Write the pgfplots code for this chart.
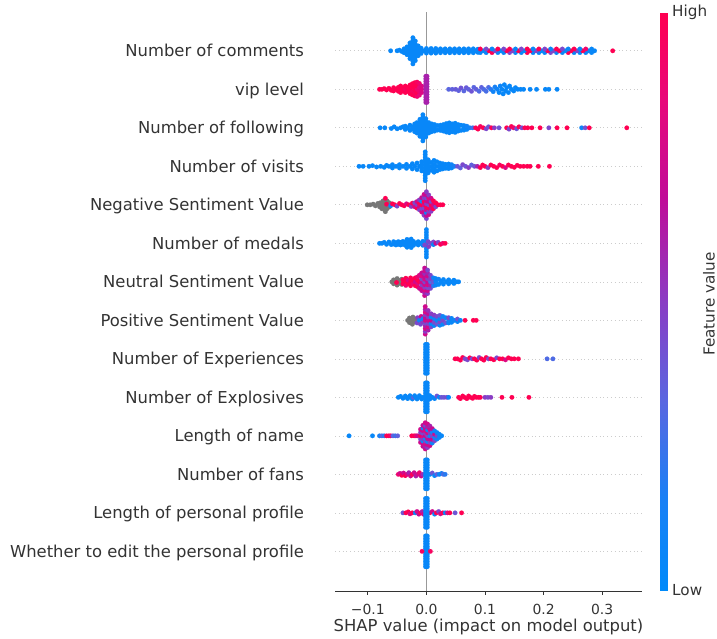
\documentclass[border=0pt]{standalone}
\usepackage{pgfplots}
\pgfplotsset{compat=1.18}
\usepackage{fontspec}
\setmainfont{DejaVu Sans}
\definecolor{cdark}{RGB}{51,51,51}
\definecolor{czero}{RGB}{153,153,153}
\definecolor{cgrid}{RGB}{204,204,204}
\definecolor{cnan}{RGB}{119,119,119}
\pgfplotsset{colormap={shap}{rgb255(0cm)=(0,138,250); rgb255(16cm)=(26,128,245); rgb255(33cm)=(90,102,224); rgb255(50cm)=(138,60,196); rgb255(68cm)=(192,12,152); rgb255(85cm)=(232,8,122); rgb255(100cm)=(255,0,82)}}
\pgfplotsset{
 pts/.style={scatter, only marks, mark=*, mark size=2.3pt, point meta=explicit, scatter/use mapped color={draw=mapped color, fill=mapped color, line width=0.1pt}},
 gpts/.style={only marks, mark=*, mark size=2.3pt, mark options={draw=cnan, fill=cnan, line width=0.1pt}}
}
\begin{document}
\begin{tikzpicture}
\path[use as bounding box] (0,0) rectangle (717pt,638pt);
\begin{axis}[
 at={(335pt,47pt)}, anchor=south west,
 scale only axis, width=307pt, height=578.7pt,
 xmin=-0.156, xmax=0.368, ymin=-1.03, ymax=14,
 axis x line*=bottom, axis y line*=left,
 y axis line style={draw=none},
 x axis line style={draw=cdark, line width=1pt},
 xtick={-0.1,0,0.1,0.2,0.3}, xticklabels={−0.1,0.0,0.1,0.2,0.3},
 ytick={0,1,2,3,4,5,6,7,8,9,10,11,12,13},
 yticklabels={Whether to edit the personal profile, Length of personal profile, Number of fans, Length of name, Number of Explosives, Number of Experiences, Positive Sentiment Value, Neutral Sentiment Value, Number of medals, Negative Sentiment Value, Number of visits, Number of following, vip level, Number of comments},
 ytick style={draw=none},
 xtick style={draw=cdark, line width=0.8pt},
 tick align=outside, major tick length=3.5pt,
 ymajorgrids, y grid style={color=cgrid, line width=0.63pt, dash pattern=on 0.63pt off 3.15pt},
 tick label style={color=cdark},
 xticklabel style={font=\fontsize{13.9pt}{16pt}\selectfont, anchor=base, yshift=-20pt},
 yticklabel style={font=\fontsize{16.4pt}{19pt}\selectfont, anchor=base east, yshift=-6pt, xshift=-24pt},
 xlabel={SHAP value (impact on model output)},
 xlabel style={font=\fontsize{16.4pt}{19pt}\selectfont, color=cdark, at={(axis description cs:0.5,0)}, anchor=base, yshift=-40.7pt},
 point meta min=0, point meta max=1, colormap name=shap,
]
\addplot[color=czero, line width=1.2pt, forget plot] coordinates {(0,-1.03) (0,14)};
% Row 13: Number of comments
\addplot[pts] table[row sep=\\, y expr=0.85*\thisrow{d}+13, meta=c] {x d c\\
-0.061 0 .05\\ -0.050 0 .05\\ -0.046 .02 .05\\ -0.042 -.02 .05\\ -0.038 -.06 .05\\ -0.038 .06 .05\\
-0.033 -.12 .05\\ -0.033 -.04 .05\\ -0.033 .04 .05\\ -0.033 .12 .05\\
-0.028 -.24 .05\\ -0.028 -.16 .05\\ -0.028 -.08 .05\\ -0.028 0 .05\\ -0.028 .08 .05\\ -0.028 .16 .05\\ -0.028 .24 .05\\
-0.023 -.40 .05\\ -0.023 -.32 .05\\ -0.023 -.24 .05\\ -0.023 -.16 .05\\ -0.023 -.08 .05\\ -0.023 0 .05\\ -0.023 .08 .05\\ -0.023 .16 .05\\ -0.023 .24 .05\\ -0.023 .32 .05\\ -0.023 .40 .05\\
-0.019 -.30 .05\\ -0.019 -.20 .05\\ -0.019 -.10 .05\\ -0.019 0 .05\\ -0.019 .10 .05\\ -0.019 .20 .05\\ -0.019 .30 .05\\
-0.014 -.15 .05\\ -0.014 -.05 .05\\ -0.014 .05 .05\\ -0.014 .15 .05\\ -0.009 -.08 .05\\ -0.009 0 .05\\ -0.009 .08 .05\\
-0.004 0 .05\\ 0 -.07 .05\\ 0 .07 .05\\ 0.004 0 .05\\ 0.008 -.07 .05\\ 0.008 .07 .05\\ 0.012 0 .05\\ 0.016 -.07 .05\\ 0.016 .07 .05\\ 0.020 0 .05\\ 0.024 -.06 .05\\ 0.024 .06 .05\\ 0.028 0 .05\\ 0.032 -.06 .05\\ 0.032 .06 .05\\ 0.036 0 .05\\ 0.040 -.06 .05\\ 0.040 .06 .05\\ 0.044 0 .05\\ 0.048 -.06 .05\\ 0.048 .06 .05\\ 0.052 0 .05\\ 0.056 -.06 .05\\ 0.056 .06 .05\\ 0.060 0 .05\\ 0.064 -.06 .05\\ 0.064 .06 .05\\ 0.068 0 .05\\ 0.072 -.06 .05\\ 0.072 .06 .05\\ 0.076 0 .05\\ 0.080 -.06 .05\\ 0.080 .06 .05\\ 0.084 0 .05\\ 0.088 -.05 .05\\ 0.088 .05 .05\\
0.092 -.055 .05\\ 0.102 -.055 .05\\ 0.112 -.055 1\\ 0.122 -.055 .05\\ 0.132 -.055 .05\\ 0.142 -.055 .45\\ 0.152 -.055 .05\\ 0.162 -.055 .05\\ 0.172 -.055 1\\ 0.182 -.055 .05\\ 0.192 -.055 .05\\ 0.202 -.055 .05\\ 0.212 -.055 .45\\ 0.222 -.055 .05\\ 0.232 -.055 .05\\ 0.242 -.055 1\\ 0.252 -.055 .05\\ 0.262 -.055 .05\\ 0.272 -.055 .05\\ 0.282 -.055 .05\\
0.097 0 .05\\ 0.107 0 1\\ 0.117 0 .45\\ 0.127 0 .05\\ 0.137 0 1\\ 0.147 0 .45\\ 0.157 0 1\\ 0.167 0 .05\\ 0.177 0 1\\ 0.187 0 .45\\ 0.197 0 .05\\ 0.207 0 1\\ 0.217 0 .45\\ 0.227 0 1\\ 0.237 0 .05\\ 0.247 0 1\\ 0.257 0 .45\\ 0.267 0 1\\ 0.277 0 .05\\ 0.287 0 .05\\
0.092 .055 1\\ 0.102 .055 .45\\ 0.112 .055 .05\\ 0.122 .055 1\\ 0.132 .055 .45\\ 0.142 .055 1\\ 0.152 .055 .05\\ 0.162 .055 .45\\ 0.172 .055 1\\ 0.182 .055 .05\\ 0.192 .055 1\\ 0.202 .055 .45\\ 0.212 .055 .05\\ 0.222 .055 1\\ 0.232 .055 .45\\ 0.242 .055 .05\\ 0.252 .055 1\\ 0.262 .055 .05\\ 0.272 .055 .9\\ 0.282 .055 .05\\
0.318 0 1\\
};
% Row 12: vip level
\addplot[pts] table[row sep=\\, y expr=0.85*\thisrow{d}+12, meta=c] {x d c\\
-0.080 0 1\\ -0.076 0 1\\ -0.072 .02 1\\ -0.068 -.02 1\\ -0.064 .03 1\\ -0.060 -.03 1\\
-0.056 -.05 1\\ -0.056 .05 1\\ -0.052 0 1\\ -0.048 -.06 1\\ -0.048 .06 1\\ -0.044 0 1\\ -0.044 -.10 1\\ -0.044 .10 1\\ -0.040 -.05 1\\ -0.040 .05 1\\
-0.036 -.10 1\\ -0.036 0 .95\\ -0.036 .10 1\\ -0.032 -.06 1\\ -0.032 .06 1\\ -0.028 -.13 1\\ -0.028 0 1\\ -0.028 .13 1\\ -0.024 -.07 .95\\ -0.024 .07 1\\ -0.024 -.17 1\\ -0.024 .17 1\\
-0.020 -.20 1\\ -0.020 -.10 .95\\ -0.020 0 1\\ -0.020 .10 1\\ -0.020 .20 1\\
-0.016 -.22 .9\\ -0.016 -.11 1\\ -0.016 0 .9\\ -0.016 .11 1\\ -0.016 .22 .95\\
-0.012 -.18 .85\\ -0.012 -.06 .9\\ -0.012 .06 .85\\ -0.012 .18 .9\\ -0.008 -.10 .8\\ -0.008 0 .8\\ -0.008 .10 .8\\
-0.001 -.40 .6\\ -0.001 -.32 .6\\ -0.001 -.24 .6\\ -0.001 -.16 .6\\ -0.001 -.08 .6\\ -0.001 0 .6\\ -0.001 .08 .6\\ -0.001 .16 .6\\ -0.001 .24 .6\\ -0.001 .32 .6\\ -0.001 .40 .6\\
0.001 -.40 .6\\ 0.001 -.32 .6\\ 0.001 -.24 .6\\ 0.001 -.16 .6\\ 0.001 -.08 .6\\ 0.001 0 .6\\ 0.001 .08 .6\\ 0.001 .16 .6\\ 0.001 .24 .6\\ 0.001 .32 .6\\ 0.001 .40 .6\\
0.038 0 .33\\ 0.044 0 .35\\ 0.050 0 .38\\ 0.055 -.04 .35\\ 0.059 .04 .4\\ 0.064 -.05 .33\\ 0.068 .05 .38\\ 0.072 0 .35\\ 0.077 -.06 .4\\ 0.081 .06 .33\\ 0.085 0 .36\\ 0.090 -.06 .3\\ 0.094 .06 .35\\ 0.098 0 .3\\ 0.102 -.06 .28\\ 0.106 .06 .3\\
0.110 0 .2\\ 0.114 -.07 .1\\ 0.117 .07 .15\\ 0.121 0 .1\\ 0.124 -.10 .05\\ 0.126 .10 .08\\ 0.129 0 .05\\ 0.131 -.14 .05\\ 0.133 .14 .05\\ 0.135 -.05 .05\\ 0.137 .05 .05\\ 0.140 -.10 .05\\ 0.142 .10 .05\\ 0.145 0 .05\\ 0.149 -.05 .05\\ 0.152 .05 .05\\ 0.156 0 .05\\ 0.161 0 .05\\ 0.166 0 .05\\ 0.177 0 .05\\ 0.188 0 .05\\ 0.203 0 .05\\ 0.209 0 .05\\ 0.223 0 .05\\
};
% Row 11: Number of following
\addplot[pts] table[row sep=\\, y expr=0.85*\thisrow{d}+11, meta=c] {x d c\\
-0.079 0 .05\\ -0.071 0 .05\\ -0.060 -.02 .05\\ -0.055 .03 .05\\ -0.050 -.03 .05\\ -0.044 0 .05\\ -0.040 .03 .05\\
-0.036 -.05 .05\\ -0.036 .05 .05\\ -0.032 0 .05\\ -0.028 -.08 .05\\ -0.028 .08 .05\\ -0.024 -.03 .05\\ -0.024 .03 .05\\ -0.020 -.12 .05\\ -0.020 -.04 .05\\ -0.020 .04 .05\\ -0.020 .12 .05\\
-0.016 -.16 .05\\ -0.016 -.08 .05\\ -0.016 0 .05\\ -0.016 .08 .05\\ -0.016 .16 .05\\
-0.011 -.26 .05\\ -0.011 -.17 .05\\ -0.011 -.09 .05\\ -0.011 0 .05\\ -0.011 .09 .05\\ -0.011 .17 .05\\ -0.011 .26 .05\\
-0.006 -.40 .05\\ -0.006 -.32 .05\\ -0.006 -.24 .05\\ -0.006 -.16 .05\\ -0.006 -.08 .05\\ -0.006 0 .05\\ -0.006 .08 .05\\ -0.006 .16 .05\\ -0.006 .24 .05\\ -0.006 .32 .05\\ -0.006 .40 .05\\
-0.001 -.28 .05\\ -0.001 -.20 .05\\ -0.001 -.12 .05\\ -0.001 -.04 .05\\ -0.001 .04 .05\\ -0.001 .12 .05\\ -0.001 .20 .05\\ -0.001 .28 .05\\
0.004 -.16 .05\\ 0.004 -.08 .05\\ 0.004 0 .05\\ 0.004 .08 .05\\ 0.004 .16 .05\\ 0.009 -.12 .05\\ 0.009 -.04 .05\\ 0.009 .04 .05\\ 0.009 .12 .05\\
0.014 -.10 .05\\ 0.014 0 .05\\ 0.014 .10 .05\\ 0.019 -.07 .05\\ 0.019 .07 .05\\ 0.024 -.08 .05\\ 0.024 0 .05\\ 0.024 .08 .05\\
0.029 -.10 .05\\ 0.029 0 .05\\ 0.029 .10 .05\\ 0.034 -.13 .05\\ 0.034 -.04 .05\\ 0.034 .04 .05\\ 0.034 .13 .05\\
0.039 -.15 .05\\ 0.039 -.05 .05\\ 0.039 .05 .05\\ 0.039 .15 .05\\ 0.044 -.12 .05\\ 0.044 0 .05\\ 0.044 .12 .05\\
0.049 -.14 .05\\ 0.049 -.05 .05\\ 0.049 .05 .05\\ 0.049 .14 .05\\ 0.054 -.10 .05\\ 0.054 0 .05\\ 0.054 .10 .05\\
0.059 -.08 .05\\ 0.059 .08 .05\\ 0.064 -.07 .05\\ 0.064 0 .05\\ 0.064 .07 .05\\ 0.069 -.05 .05\\ 0.069 .05 .1\\ 0.074 0 .1\\ 0.079 0 .25\\
0.084 0 1\\ 0.088 -.04 1\\ 0.092 .04 .95\\ 0.097 0 1\\ 0.102 -.03 .45\\ 0.106 .03 .4\\ 0.111 0 1\\ 0.116 0 .5\\ 0.124 0 .4\\ 0.137 0 1\\ 0.141 -.04 .45\\ 0.145 .04 1\\ 0.149 0 .9\\ 0.154 -.03 .4\\ 0.158 .03 1\\ 0.163 0 .45\\ 0.168 0 1\\ 0.173 0 1\\ 0.180 0 1\\ 0.194 0 1\\ 0.209 0 .45\\ 0.223 0 1\\ 0.240 0 1\\ 0.265 0 .1\\ 0.271 0 .4\\ 0.278 0 1\\ 0.342 0 1\\
};
% Row 10: Number of visits
\addplot[pts] table[row sep=\\, y expr=0.85*\thisrow{d}+10, meta=c] {x d c\\
-0.115 0 .05\\ -0.108 0 .05\\ -0.098 0 .05\\ -0.092 .02 .05\\ -0.085 -.02 .05\\ -0.078 0 .05\\ -0.072 -.03 .05\\ -0.068 .03 .05\\ -0.064 0 .05\\ -0.058 -.05 .05\\ -0.058 .05 .05\\ -0.052 0 .05\\ -0.046 -.05 .05\\ -0.046 .05 .05\\ -0.040 0 .05\\ -0.034 -.06 .05\\ -0.034 .06 .05\\ -0.028 0 .05\\ -0.024 -.08 .05\\ -0.024 .08 .05\\ -0.020 0 .05\\ -0.016 -.10 .05\\ -0.016 .10 .05\\ -0.012 0 .05\\ -0.008 -.14 .05\\ -0.008 -.05 .05\\ -0.008 .05 .05\\ -0.008 .14 .05\\
-0.002 -.44 .05\\ -0.002 -.36 .05\\ -0.002 -.28 .05\\ -0.002 -.20 .05\\ -0.002 -.12 .05\\ -0.002 -.04 .05\\ -0.002 .04 .05\\ -0.002 .12 .05\\ -0.002 .20 .05\\ -0.002 .28 .05\\ -0.002 .36 .05\\ -0.002 .44 .05\\
0.003 -.20 .05\\ 0.003 -.10 .05\\ 0.003 0 .05\\ 0.003 .10 .05\\ 0.003 .20 .05\\ 0.008 -.12 .05\\ 0.008 0 .05\\ 0.008 .12 .05\\
0.013 -.18 .05\\ 0.013 -.06 .05\\ 0.013 .06 .05\\ 0.013 .18 .05\\ 0.018 -.14 .05\\ 0.018 0 .05\\ 0.018 .14 .05\\ 0.023 -.10 .05\\ 0.023 0 .05\\ 0.023 .10 .05\\
0.028 -.08 .05\\ 0.028 0 .05\\ 0.028 .08 .05\\ 0.033 -.06 .05\\ 0.033 .06 .05\\ 0.038 -.07 .05\\ 0.038 0 .05\\ 0.038 .07 .05\\ 0.043 -.05 .05\\ 0.043 .05 .1\\ 0.048 0 .15\\
0.053 0 .4\\ 0.058 -.05 .35\\ 0.062 .05 .45\\ 0.067 0 .4\\ 0.072 -.04 .5\\ 0.077 .04 .35\\ 0.082 0 .4\\ 0.087 0 .6\\
0.092 -.04 1\\ 0.096 .04 1\\ 0.100 0 1\\ 0.105 -.04 .5\\ 0.110 .04 1\\ 0.115 0 1\\ 0.120 -.04 1\\ 0.125 .04 .95\\ 0.130 0 1\\ 0.135 -.04 .8\\ 0.140 .04 1\\ 0.145 0 1\\ 0.150 -.03 1\\ 0.155 .03 1\\ 0.160 0 1\\ 0.166 0 1\\ 0.172 0 1\\ 0.177 0 1\\ 0.191 0 1\\ 0.210 0 1\\
};
% Row 9: Negative Sentiment Value
\addplot[gpts] table[row sep=\\, y expr=0.85*\thisrow{d}+9] {x d\\
-0.101 0\\ -0.096 0\\ -0.091 .02\\ -0.087 -.03\\ -0.083 .04\\ -0.080 -.06\\ -0.079 .06\\ -0.076 -.12\\ -0.075 0\\ -0.074 .12\\ -0.071 -.17\\ -0.071 -.06\\ -0.070 .06\\ -0.070 -.21\\ -0.067 -.12\\ -0.067 .12\\ -0.065 0\\ -0.063 -.06\\ -0.063 .06\\
};
\addplot[pts] table[row sep=\\, y expr=0.85*\thisrow{d}+9, meta=c] {x d c\\
-0.070 .20 1\\ -0.068 .02 1\\ -0.061 -.03 .1\\ -0.058 .03 1\\ -0.054 0 1\\ -0.050 -.04 .45\\ -0.046 .04 1\\ -0.042 0 1\\ -0.038 -.03 1\\ -0.034 .03 .8\\ -0.030 0 1\\ -0.026 -.05 .5\\ -0.024 .05 1\\
-0.020 -.06 .75\\ -0.020 .06 .45\\ -0.016 -.10 1\\ -0.016 0 .5\\ -0.016 .10 .75\\
-0.012 -.15 .45\\ -0.012 -.05 .75\\ -0.012 .05 1\\ -0.012 .15 .5\\
-0.008 -.22 .75\\ -0.008 -.11 .45\\ -0.008 0 1\\ -0.008 .11 .1\\ -0.008 .22 .7\\
-0.004 -.32 .5\\ -0.004 -.21 .75\\ -0.004 -.10 .45\\ -0.004 0 .8\\ -0.004 .10 1\\ -0.004 .21 .5\\ -0.004 .32 .75\\
0 -.42 .45\\ 0 -.33 .7\\ 0 -.24 .1\\ 0 -.15 .75\\ 0 -.06 1\\ 0 .03 .5\\ 0 .12 .75\\ 0 .21 .45\\ 0 .30 .7\\ 0 .40 .5\\
0.004 -.30 .75\\ 0.004 -.20 .5\\ 0.004 -.10 1\\ 0.004 0 .45\\ 0.004 .10 .7\\ 0.004 .20 .8\\ 0.004 .30 .5\\
0.008 -.20 .5\\ 0.008 -.10 .75\\ 0.008 0 1\\ 0.008 .10 .45\\ 0.008 .20 .75\\
0.012 -.12 1\\ 0.012 0 .75\\ 0.012 .12 1\\ 0.016 -.06 .45\\ 0.016 .06 1\\ 0.020 0 1\\ 0.024 0 1\\ 0.028 0 1\\
};
% Row 8: Number of medals
\addplot[pts] table[row sep=\\, y expr=0.85*\thisrow{d}+8, meta=c] {x d c\\
-0.080 0 .05\\ -0.076 0 .05\\ -0.072 .03 .05\\ -0.068 -.03 .05\\ -0.064 .04 .05\\ -0.060 -.04 .05\\ -0.056 .05 .05\\ -0.056 -.02 .05\\ -0.052 -.05 .05\\ -0.052 .02 .05\\ -0.048 .05 .05\\ -0.048 -.03 .05\\ -0.044 -.05 .05\\ -0.044 .03 .05\\ -0.040 .06 .05\\ -0.040 -.03 .05\\ -0.036 -.06 .05\\ -0.036 .03 .05\\
-0.033 -.12 .05\\ -0.033 0 .05\\ -0.033 .12 .05\\ -0.029 -.06 .05\\ -0.029 .06 .05\\ -0.026 -.13 .05\\ -0.026 0 .05\\ -0.026 .13 .05\\ -0.022 -.06 .05\\ -0.022 .06 .05\\ -0.018 0 .05\\ -0.014 -.05 .05\\ -0.014 .05 .05\\ -0.010 0 .05\\ -0.006 -.06 .05\\ -0.006 .06 .05\\
0 -.42 .05\\ 0 -.336 .05\\ 0 -.252 .05\\ 0 -.168 .05\\ 0 -.084 .05\\ 0 0 .05\\ 0 .084 .05\\ 0 .168 .05\\ 0 .252 .05\\ 0 .336 .05\\ 0 .42 .05\\
-0.003 -.05 .45\\ 0.003 .05 .45\\ 0.004 -.10 .5\\
0.008 0 .45\\ 0.012 .04 .45\\ 0.012 -.04 .05\\ 0.016 0 .7\\ 0.020 .03 .45\\ 0.024 -.03 1\\ 0.028 0 .9\\ 0.032 0 1\\
};
% Row 7: Neutral Sentiment Value
\addplot[gpts] table[row sep=\\, y expr=0.85*\thisrow{d}+7] {x d\\
-0.059 0\\ -0.056 -.06\\ -0.056 .06\\ -0.053 0\\ -0.050 -.10\\ -0.050 .10\\ -0.047 -.05\\ -0.047 .05\\ -0.044 0\\ -0.042 -.08\\ -0.042 .08\\
};
\addplot[pts] table[row sep=\\, y expr=0.85*\thisrow{d}+7, meta=c] {x d c\\
-0.051 -.02 1\\ -0.040 -.06 1\\ -0.040 .06 1\\ -0.036 0 1\\ -0.035 -.11 .9\\ -0.035 .11 1\\ -0.031 -.05 1\\ -0.031 .05 .8\\ -0.027 -.12 1\\ -0.027 0 1\\ -0.027 .12 1\\ -0.023 -.06 .9\\ -0.023 .06 1\\ -0.019 -.12 1\\ -0.019 0 .75\\ -0.019 .12 1\\ -0.015 -.15 1\\ -0.015 -.05 .8\\ -0.015 .05 1\\ -0.015 .15 .9\\ -0.012 -.2 .75\\ -0.012 0 1\\ -0.012 .2 .8\\
-0.008 -.27 .7\\ -0.008 -.18 .8\\ -0.008 -.09 .5\\ -0.008 0 .75\\ -0.008 .09 .45\\ -0.008 .18 .8\\ -0.008 .27 .7\\
-0.003 -.42 .75\\ -0.003 -.336 .6\\ -0.003 -.252 .8\\ -0.003 -.168 .5\\ -0.003 -.084 .75\\ -0.003 0 .45\\ -0.003 .084 .8\\ -0.003 .168 .7\\ -0.003 .252 .55\\ -0.003 .336 .75\\ -0.003 .42 .7\\
0.002 -.36 .5\\ 0.002 -.27 .75\\ 0.002 -.18 .45\\ 0.002 -.09 .8\\ 0.002 0 .7\\ 0.002 .09 .5\\ 0.002 .18 .75\\ 0.002 .27 .6\\ 0.002 .36 .45\\
0.007 -.20 .45\\ 0.007 -.10 .6\\ 0.007 0 .3\\ 0.007 .10 .5\\ 0.007 .20 .45\\ 0.012 -.12 .2\\ 0.012 0 .4\\ 0.012 .12 .1\\
0.016 -.10 .05\\ 0.016 0 .1\\ 0.016 .10 .05\\ 0.021 -.08 .05\\ 0.021 .08 .1\\ 0.025 0 .05\\ 0.029 -.07 .05\\ 0.029 .07 .05\\ 0.034 0 .05\\ 0.038 -.06 .05\\ 0.038 .06 .05\\ 0.043 0 .05\\ 0.047 -.05 .05\\ 0.047 .05 .05\\ 0.052 0 .05\\ 0.055 0 .05\\
};
% Row 6: Positive Sentiment Value
\addplot[gpts] table[row sep=\\, y expr=0.85*\thisrow{d}+6] {x d\\
-0.032 0\\ -0.029 -.07\\ -0.029 .07\\ -0.026 0\\ -0.024 -.12\\ -0.023 .10\\ -0.021 -.05\\ -0.020 .05\\ -0.018 0\\
};
\addplot[pts] table[row sep=\\, y expr=0.85*\thisrow{d}+6, meta=c] {x d c\\
-0.016 -.08 .45\\ -0.015 .08 .5\\ -0.012 0 .1\\ -0.010 -.12 .45\\ -0.009 .12 .75\\ -0.006 -.05 .5\\ -0.006 .05 .1\\
-0.002 -.42 .75\\ -0.002 -.336 .5\\ -0.002 -.252 .8\\ -0.002 -.168 .6\\ -0.002 -.084 .45\\ -0.002 0 .75\\ -0.002 .084 .7\\ -0.002 .168 .5\\ -0.002 .252 .8\\ -0.002 .336 .6\\ -0.002 .42 .75\\
0.003 -.30 .6\\ 0.003 -.20 .8\\ 0.003 -.10 .45\\ 0.003 0 .75\\ 0.003 .10 .5\\ 0.003 .20 .7\\ 0.003 .30 .55\\
0.008 -.20 .45\\ 0.008 -.10 .05\\ 0.008 0 .7\\ 0.008 .10 .1\\ 0.008 .20 .5\\
0.013 -.16 .05\\ 0.013 -.06 .45\\ 0.013 .06 .1\\ 0.013 .16 .5\\ 0.018 -.12 .4\\ 0.018 0 .05\\ 0.018 .12 .45\\
0.023 -.15 .1\\ 0.023 -.05 .45\\ 0.023 .05 .05\\ 0.023 .15 .4\\ 0.028 -.12 .05\\ 0.028 0 .45\\ 0.028 .12 .1\\
0.033 -.08 .4\\ 0.033 .08 .05\\ 0.038 -.08 .05\\ 0.038 0 .1\\ 0.038 .08 .45\\ 0.043 -.06 .05\\ 0.043 .06 .05\\ 0.048 0 .1\\ 0.053 -.04 .05\\ 0.053 .04 .4\\ 0.058 0 .05\\
0.066 0 1\\ 0.080 0 1\\ 0.085 0 1\\
};
% Row 5: Number of Experiences
\addplot[pts] table[row sep=\\, y expr=0.85*\thisrow{d}+5, meta=c] {x d c\\
-0.0015 -.44 .05\\ -0.0015 -.36 .05\\ -0.0015 -.28 .05\\ -0.0015 -.20 .05\\ -0.0015 -.12 .05\\ -0.0015 -.04 .05\\ -0.0015 .04 .05\\ -0.0015 .12 .05\\ -0.0015 .20 .05\\ -0.0015 .28 .05\\ -0.0015 .36 .05\\ -0.0015 .44 .05\\
0.0015 -.44 .05\\ 0.0015 -.36 .05\\ 0.0015 -.28 .05\\ 0.0015 -.20 .05\\ 0.0015 -.12 .05\\ 0.0015 -.04 .05\\ 0.0015 .04 .05\\ 0.0015 .12 .05\\ 0.0015 .20 .05\\ 0.0015 .28 .05\\ 0.0015 .36 .05\\ 0.0015 .44 .05\\
0.049 0 1\\ 0.053 0 1\\ 0.058 -.04 1\\ 0.062 .04 1\\ 0.066 0 .45\\ 0.070 -.03 .45\\ 0.074 .03 1\\ 0.078 0 .45\\ 0.082 0 1\\ 0.086 -.04 1\\ 0.090 .04 .45\\ 0.094 0 1\\ 0.098 -.04 1\\ 0.102 .04 1\\ 0.106 0 .45\\ 0.110 0 1\\ 0.115 -.03 1\\ 0.120 .03 .45\\ 0.125 0 1\\ 0.130 0 1\\ 0.135 -.03 .8\\ 0.140 .03 1\\ 0.145 0 1\\ 0.150 0 1\\ 0.157 0 1\\
0.206 0 .3\\ 0.216 0 .3\\
};
% Row 4: Number of Explosives
\addplot[pts] table[row sep=\\, y expr=0.85*\thisrow{d}+4, meta=c] {x d c\\
-0.048 0 .05\\ -0.044 .03 .05\\ -0.040 -.03 .05\\ -0.036 .04 .05\\ -0.034 0 .05\\ -0.032 -.04 .05\\ -0.028 .05 .05\\ -0.026 0 .05\\ -0.024 -.05 .05\\ -0.022 0 .35\\ -0.020 .05 .05\\ -0.018 0 .05\\ -0.016 -.05 .05\\ -0.012 .05 .05\\ -0.010 0 .05\\ -0.008 -.05 .05\\ -0.006 0 .05\\
0.006 -.05 .05\\ 0.006 .05 .05\\ 0.010 0 .05\\ 0.014 -.04 .05\\ 0.018 .04 .4\\ 0.022 0 .05\\ 0.026 0 .4\\ 0.030 0 .4\\ 0.035 0 .45\\ 0.038 0 .05\\
-0.0015 -.44 .05\\ -0.0015 -.36 .05\\ -0.0015 -.28 .05\\ -0.0015 -.20 .05\\ -0.0015 -.12 .05\\ -0.0015 -.04 .05\\ -0.0015 .04 .05\\ -0.0015 .12 .05\\ -0.0015 .20 .05\\ -0.0015 .28 .05\\ -0.0015 .36 .05\\ -0.0015 .44 .05\\
0.0015 -.44 .05\\ 0.0015 -.36 .05\\ 0.0015 -.28 .05\\ 0.0015 -.20 .05\\ 0.0015 -.12 .05\\ 0.0015 -.04 .05\\ 0.0015 .04 .05\\ 0.0015 .12 .05\\ 0.0015 .20 .05\\ 0.0015 .28 .05\\ 0.0015 .36 .05\\ 0.0015 .44 .05\\
0.055 0 1\\ 0.058 -.04 1\\ 0.062 .04 1\\ 0.065 0 1\\ 0.069 -.04 1\\ 0.072 .04 1\\ 0.075 0 1\\ 0.079 -.03 1\\ 0.082 .03 1\\ 0.085 0 1\\ 0.089 0 1\\ 0.092 0 1\\ 0.100 0 .5\\ 0.105 0 .45\\ 0.110 0 .5\\ 0.129 0 1\\ 0.146 0 1\\ 0.175 0 1\\
};
% Row 3: Length of name
\addplot[pts] table[row sep=\\, y expr=0.85*\thisrow{d}+3, meta=c] {x d c\\
-0.132 0 .05\\ -0.092 0 .05\\ -0.080 0 .15\\ -0.076 0 .3\\ -0.072 0 .2\\ -0.068 0 1\\ -0.064 0 1\\ -0.061 0 .9\\ -0.057 0 .35\\ -0.053 0 .25\\ -0.049 0 .35\\
-0.025 0 1\\ -0.021 0 1\\ -0.018 0 .9\\ -0.015 0 .75\\
-0.010 -.2 .75\\ -0.010 -.1 .45\\ -0.010 0 1\\ -0.010 .1 .5\\ -0.010 .2 .75\\
-0.006 -.32 .7\\ -0.006 -.24 .75\\ -0.006 -.16 .1\\ -0.006 -.08 .5\\ -0.006 0 .8\\ -0.006 .08 .45\\ -0.006 .16 .75\\ -0.006 .24 .1\\ -0.006 .32 .7\\
-0.002 -.40 .75\\ -0.002 -.32 .6\\ -0.002 -.24 .8\\ -0.002 -.16 .45\\ -0.002 -.08 .1\\ -0.002 0 .75\\ -0.002 .08 .5\\ -0.002 .16 .8\\ -0.002 .24 .7\\ -0.002 .32 .45\\ -0.002 .40 .75\\
0.002 -.36 .5\\ 0.002 -.27 .75\\ 0.002 -.18 .1\\ 0.002 -.09 .7\\ 0.002 0 .45\\ 0.002 .09 .8\\ 0.002 .18 .1\\ 0.002 .27 .6\\ 0.002 .36 .75\\
0.006 -.30 .75\\ 0.006 -.20 .45\\ 0.006 -.10 .7\\ 0.006 0 .1\\ 0.006 .10 .5\\ 0.006 .20 .75\\ 0.006 .30 .6\\
0.010 -.22 .1\\ 0.010 -.11 .75\\ 0.010 0 .45\\ 0.010 .11 .1\\ 0.010 .22 .7\\
0.014 -.15 .45\\ 0.014 -.05 .1\\ 0.014 .05 .75\\ 0.014 .15 .1\\ 0.018 -.10 .1\\ 0.018 0 .45\\ 0.018 .10 .05\\ 0.022 -.05 .1\\ 0.022 .05 .05\\ 0.026 0 .05\\
};
% Row 2: Number of fans
\addplot[pts] table[row sep=\\, y expr=0.85*\thisrow{d}+2, meta=c] {x d c\\
-0.048 0 .9\\ -0.045 .03 .75\\ -0.042 -.03 1\\ -0.039 .04 .75\\ -0.036 -.04 1\\ -0.033 0 .8\\ -0.030 .05 .6\\ -0.027 -.05 .75\\ -0.024 0 1\\ -0.021 .05 .75\\ -0.018 -.05 .6\\ -0.015 0 .75\\ -0.012 .05 .9\\ -0.009 -.05 .75\\ -0.006 0 .55\\
0.006 0 .05\\ 0.010 .04 .4\\ 0.014 -.04 .05\\ 0.018 0 .35\\ 0.022 0 .05\\ 0.026 .03 .15\\ 0.029 0 .3\\ 0.032 0 .2\\
-0.0015 -.44 .05\\ -0.0015 -.36 .05\\ -0.0015 -.28 .05\\ -0.0015 -.20 .05\\ -0.0015 -.12 .05\\ -0.0015 -.04 .05\\ -0.0015 .04 .05\\ -0.0015 .12 .05\\ -0.0015 .20 .05\\ -0.0015 .28 .05\\ -0.0015 .36 .05\\ -0.0015 .44 .05\\
0.0015 -.44 .05\\ 0.0015 -.36 .05\\ 0.0015 -.28 .05\\ 0.0015 -.20 .05\\ 0.0015 -.12 .05\\ 0.0015 -.04 .05\\ 0.0015 .04 .05\\ 0.0015 .12 .05\\ 0.0015 .20 .05\\ 0.0015 .28 .05\\ 0.0015 .36 .05\\ 0.0015 .44 .05\\
};
% Row 1: Length of personal profile
\addplot[pts] table[row sep=\\, y expr=0.85*\thisrow{d}+1, meta=c] {x d c\\
-0.040 0 .4\\ -0.035 0 1\\ -0.031 .03 1\\ -0.028 -.03 .8\\ -0.024 0 1\\ -0.019 0 .05\\ -0.016 .04 .75\\ -0.013 -.04 .7\\ -0.010 0 1\\ -0.007 .04 .6\\ -0.005 -.04 .75\\
0.006 0 1\\ 0.010 .04 .75\\ 0.014 -.04 .05\\ 0.017 0 1\\ 0.021 .04 .45\\ 0.024 -.03 .75\\ 0.028 0 1\\ 0.032 0 .1\\ 0.036 0 .8\\ 0.040 0 1\\ 0.049 0 .4\\ 0.060 0 1\\
-0.0015 -.44 .05\\ -0.0015 -.36 .05\\ -0.0015 -.28 .05\\ -0.0015 -.20 .05\\ -0.0015 -.12 .05\\ -0.0015 -.04 .05\\ -0.0015 .04 .05\\ -0.0015 .12 .05\\ -0.0015 .20 .05\\ -0.0015 .28 .05\\ -0.0015 .36 .05\\ -0.0015 .44 .05\\
0.0015 -.44 .05\\ 0.0015 -.36 .05\\ 0.0015 -.28 .05\\ 0.0015 -.20 .05\\ 0.0015 -.12 .05\\ 0.0015 -.04 .05\\ 0.0015 .04 .05\\ 0.0015 .12 .05\\ 0.0015 .20 .05\\ 0.0015 .28 .05\\ 0.0015 .36 .05\\ 0.0015 .44 .05\\
};
% Row 0: Whether to edit the personal profile
\addplot[pts] table[row sep=\\, y expr=0.85*\thisrow{d}, meta=c] {x d c\\
-0.0015 -.47 .05\\ -0.0015 -.39 .05\\ -0.0015 -.31 .05\\ -0.0015 -.23 .05\\ -0.0015 -.15 .05\\ -0.0015 -.08 .05\\ -0.0015 0 .05\\ -0.0015 .08 .05\\ -0.0015 .15 .05\\ -0.0015 .23 .05\\ -0.0015 .31 .05\\ -0.0015 .39 .05\\ -0.0015 .47 .05\\
0.0015 -.47 .05\\ 0.0015 -.39 .05\\ 0.0015 -.31 .05\\ 0.0015 -.23 .05\\ 0.0015 -.15 .05\\ 0.0015 -.08 .05\\ 0.0015 0 .05\\ 0.0015 .08 .05\\ 0.0015 .15 .05\\ 0.0015 .23 .05\\ 0.0015 .31 .05\\ 0.0015 .39 .05\\ 0.0015 .47 .05\\
-0.0075 0 .95\\ 0.0068 0 .95\\
};
\end{axis}
% Colour bar
\begin{axis}[
 at={(660pt,48pt)}, anchor=south west,
 scale only axis, width=7pt, height=577.3pt,
 xmin=0, xmax=1, ymin=0, ymax=1,
 axis line style={draw=none},
 xtick=\empty, ytick={0,1}, yticklabels={Low,High},
 yticklabel pos=right, ytick style={draw=none}, major tick length=0pt,
 yticklabel style={font=\fontsize{15.2pt}{17pt}\selectfont, color=cdark, anchor=west, xshift=1.7pt},
 colormap name=shap, point meta min=0, point meta max=1,
 ylabel={Feature value},
 ylabel style={font=\fontsize{15.2pt}{17pt}\selectfont, color=cdark, at={(axis description cs:7.0,0.4955)}, anchor=center},
]
\addplot[surf, shader=interp, point meta=y, mesh/rows=2, mesh/cols=2] coordinates {(0,0) (1,0) (0,1) (1,1)};
\end{axis}
\end{tikzpicture}
\end{document}
